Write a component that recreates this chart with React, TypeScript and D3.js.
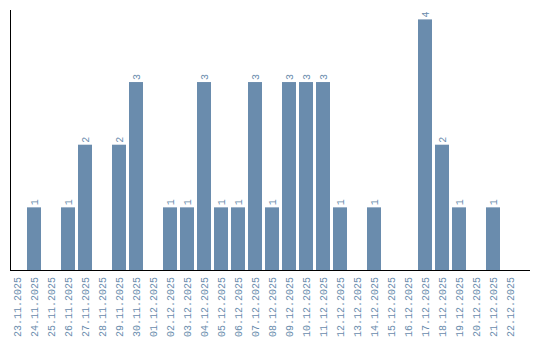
import React from "react";
import * as d3 from "d3";

const dates = [
  "23.11.2025","24.11.2025","25.11.2025","26.11.2025","27.11.2025","28.11.2025",
  "29.11.2025","30.11.2025","01.12.2025","02.12.2025","03.12.2025","04.12.2025",
  "05.12.2025","06.12.2025","07.12.2025","08.12.2025","09.12.2025","10.12.2025",
  "11.12.2025","12.12.2025","13.12.2025","14.12.2025","15.12.2025","16.12.2025",
  "17.12.2025","18.12.2025","19.12.2025","20.12.2025","21.12.2025","22.12.2025",
];
const counts = [0,1,0,1,2,0,2,3,0,1,1,3,1,1,3,1,3,3,3,1,0,1,0,0,4,2,1,0,1,0];

const W = 540, H = 340;
const left = 10, right = 530, top = 10, bottom = 270;
const color = "#6a8cad";
const font = "'Liberation Mono', monospace";

export default function App() {
  const x = d3.scaleBand<string>().domain(dates).range([left, 517]).paddingInner(3 / 17).paddingOuter(0);
  const y = d3.scaleLinear().domain([0, 4.15]).range([bottom, top]);
  return (
    <svg width={W} height={H} style={{ position: "absolute", left: 0, top: 0 }}>
      {dates.map((d, i) => {
        const v = counts[i];
        const bx = x(d)!;
        const cx = bx + x.bandwidth() / 2;
        return (
          <g key={d}>
            {v > 0 && (
              <>
                <rect x={bx} y={y(v)} width={x.bandwidth()} height={bottom - y(v)} fill={color} />
                <text transform={`translate(${cx + 3.5},${y(v) - 2}) rotate(-90)`} fontFamily={font} fontSize={10} fill={color} textAnchor="start">{v}</text>
              </>
            )}
            <text transform={`translate(${cx + 3.5},${bottom + 7}) rotate(-90)`} fontFamily={font} fontSize={10} fill={color} textAnchor="end">{d}</text>
          </g>
        );
      })}
      <line x1={left + 0.5} x2={left + 0.5} y1={top} y2={bottom} stroke="#000" strokeWidth={1} />
      <line x1={left} x2={right} y1={bottom + 0.5} y2={bottom + 0.5} stroke="#000" strokeWidth={1} />
    </svg>
  );
}
